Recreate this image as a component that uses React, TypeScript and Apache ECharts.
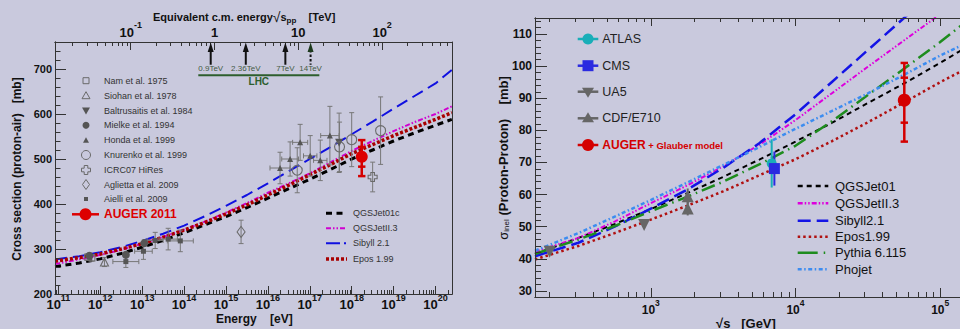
import React, { useEffect, useRef } from 'react';
import * as echarts from 'echarts';

const FONT = '"Liberation Sans", Arial, Helvetica, sans-serif';
const BG = '#c9c9dd';
const AXIS = '#333333';
const TXT = '#111111';
const LOG_2MP = Math.log10(2 * 0.938e9);
const sqrtsTeVToLogE = (t: number) => 2 * Math.log10(t * 1e12) - LOG_2MP;

// ---------------- Left panel: p-air cross section ----------------
const energyDecades = [11, 12, 13, 14, 15, 16, 17, 18, 19, 20];
const sqrtsTickTeV = [0.1, 1, 10, 100];
const pAirTicks = [200, 300, 400, 500, 600, 700];

const leftCurveLogE = [10.92, 11, 11.5, 12, 12.5, 13, 13.5, 14, 14.5, 15, 15.5, 16, 16.5, 17, 17.5, 18, 18.5, 19, 19.5, 20, 20.39];
const qgsjet01cPAir = [261, 262, 269, 278, 290, 304, 319, 336, 354, 372, 392, 413, 434, 455, 477, 500, 520, 540, 558, 575, 588];
const qgsjetII3PAir = [267, 268, 277, 287, 298, 312, 327, 343, 361, 381, 402, 425, 446, 468, 493, 518, 540, 562, 582, 600, 617];
const sibyll21PAir = [277, 278, 284, 293, 304, 318, 334, 352, 373, 396, 420, 446, 473, 500, 527, 555, 583, 612, 640, 668, 698];
const epos199PAir = [273, 274, 281, 289, 300, 312, 326, 342, 359, 378, 398, 420, 442, 465, 488, 512, 532, 552, 570, 588, 603];

// [log10(E/eV), sigma mb, err sigma, err log10E]
const nam1975 = [[11.70, 282, 7, 0], [11.80, 280, 7, 0]];
const siohan1978 = [[12.10, 271, 10, 0]];
const baltrusaitis1984 = [[17.70, 536, 66, 0]];
const mielke1994 = [[11.74, 285, 5, 0], [12.61, 287, 6, 0], [13.05, 313, 7, 0]];
const honda1999 = [[16.29, 480, 35, 0.24], [16.53, 500, 38, 0.2], [16.77, 537, 40, 0.18], [17.01, 507, 45, 0.16], [17.25, 497, 45, 0.16], [17.48, 552, 65, 0.22]];
const knurenko1999 = [[16.70, 475, 50, 0], [17.71, 527, 55, 0], [18.00, 543, 60, 0], [18.69, 563, 75, 0]];
const hires2007 = [[18.50, 460, 33, 0]];
const aglietta2009 = [[15.36, 338, 26, 0]];
const aielli2009 = [[12.61, 272, 13, 0.31], [13.03, 295, 18, 0.21], [13.31, 319, 18, 0.19], [13.62, 322, 24, 0.22], [13.91, 318, 24, 0.31]];
// [log10E, sigma, stat, sys up, sys down]
const auger2011 = [[18.24, 505, 22, 37, 43]];

const lhcArrowTeV = [0.9, 2.36, 7, 14];
const lhcArrowLabels = ['0.9TeV', '2.36TeV', '7TeV', '14TeV'];
const lhcBandTeV = [0.64, 17.8];

const leftDataLegend = [
  'Nam et al. 1975', 'Siohan et al. 1978', 'Baltrusaitis et al. 1984', 'Mielke et al. 1994',
  'Honda et al. 1999', 'Knurenko et al. 1999', 'ICRC07 HiRes', 'Aglietta et al. 2009', 'Aielli et al. 2009',
];
const leftModelLegend = ['QGSJet01c', 'QGSJetII.3', 'Sibyll 2.1', 'Epos 1.99'];

// ---------------- Right panel: p-p cross section ----------------
const sqrtsDecadesGeV = [3, 4, 5];
const ppTicks = [30, 40, 50, 60, 70, 80, 90, 100, 110];

const ppCurveLogSqrtS = [2.2, 2.5, 2.75, 3.0, 3.25, 3.5, 3.75, 4.0, 4.25, 4.5, 4.75, 5.0, 5.14];
const qgsjet01PP = [41.5, 46.5, 50.8, 55.5, 60.4, 65.5, 70.9, 76.5, 82.3, 88.5, 94.6, 101, 104.8];
const qgsjetII3PP = [42.2, 46.5, 51.6, 57.3, 62.8, 68.8, 75.5, 83.2, 91.5, 99.8, 108, 116.2, 120.7];
const sibyll21PP = [40.8, 45, 50, 55.6, 61.5, 68.3, 76, 85, 95, 105, 115, 125, 130.6];
const epos199PP = [39.8, 44, 48, 52.2, 56.5, 61, 66, 71, 76.6, 82.5, 88.7, 95, 98.3];
const pythia6115PP = [41.5, 46, 50.2, 54.8, 59.3, 64, 69.4, 75.2, 82.8, 91, 99.2, 107.5, 112.5];
const phojetPP = [42.5, 48, 53.1, 58.3, 63.7, 69.2, 74.8, 80.5, 86, 91.5, 97.3, 103.3, 106.3];

// [sqrt(s) GeV, sigma mb, err]
const atlas = [[6850, 69.7, 7.5]];
const cms = [[7150, 68.1, 5.3]];
const ua5 = [[200, 42.2, 0.9], [900, 50.5, 1.0]];
const cdfE710 = [[1800, 59.5, 2.4], [1800, 55.7, 2.2]];
// [sqrt(s) GeV, sigma, stat, up, down]
const augerPP = [[56500, 89.4, 7, 11.6, 12.9]];

const rightDataLegend = ['ATLAS', 'CMS', 'UA5', 'CDF/E710'];
const rightModelLegend = ['QGSJet01', 'QGSJetII.3', 'Sibyll2.1', 'Epos1.99', 'Pythia 6.115', 'Phojet'];

// ---------------- geometry ----------------
const L_XMIN = 10.919, L_XMAX = 20.394, L_YMIN = 200, L_YMAX = 760;
const R_XMIN = 2.2, R_XMAX = 5.137, R_YMIN = 28.1, R_YMAX = 115;

function logMinor(lo: number, hi: number, from: number, to: number, f = (v: number) => v) {
  const out: number[] = [];
  for (let n = from; n <= to; n++) for (let k = 2; k <= 9; k++) {
    const v = f(n + Math.log10(k));
    if (v > lo && v < hi) out.push(v);
  }
  return out;
}
function linTicks(lo: number, hi: number, step: number) {
  const out: number[] = [];
  for (let v = lo; v <= hi + 1e-9; v += step) out.push(v);
  return out;
}

const supRich = (base: number, sup: number, pad: number) => ({
  b: { fontSize: base, fontWeight: 'bold', fontFamily: FONT, color: TXT, padding: [pad, 0, 0, 0], verticalAlign: 'bottom' },
  s: { fontSize: sup, fontWeight: 'bold', fontFamily: FONT, color: TXT, verticalAlign: 'top' },
});

function axis(o: any) {
  return {
    type: 'value', gridIndex: o.grid, position: o.position, min: o.min, max: o.max,
    splitLine: { show: false },
    axisLine: { show: o.line !== false, onZero: false, lineStyle: { color: AXIS, width: 1 } },
    axisTick: o.ticks ? { show: true, inside: true, length: o.tickLen, customValues: o.ticks, lineStyle: { color: AXIS, width: 1 } } : { show: false },
    axisLabel: o.labels ? {
      show: true, customValues: o.labels, formatter: o.formatter, margin: o.margin,
      rich: o.rich, color: TXT, fontFamily: FONT, fontSize: o.fontSize || 12, fontWeight: 'bold',
    } : { show: false },
    z: 5,
  };
}

function errorBars(color: string, lw: number, cap: number, capX: number) {
  return (params: any, api: any) => {
    const x = api.value(0), y = api.value(1), ey = api.value(2) || 0, ex = api.value(3) || 0;
    const c = api.coord([x, y]);
    const st = { stroke: color, lineWidth: lw };
    const ch: any[] = [];
    if (ey > 0) {
      const t = api.coord([x, y + ey])[1], b = api.coord([x, y - ey])[1];
      ch.push({ type: 'line', shape: { x1: c[0], y1: t, x2: c[0], y2: b }, style: st });
      if (cap > 0) {
        ch.push({ type: 'line', shape: { x1: c[0] - cap, y1: t, x2: c[0] + cap, y2: t }, style: st });
        ch.push({ type: 'line', shape: { x1: c[0] - cap, y1: b, x2: c[0] + cap, y2: b }, style: st });
      }
    }
    if (ex > 0) {
      const l = api.coord([x - ex, y])[0], r = api.coord([x + ex, y])[0];
      ch.push({ type: 'line', shape: { x1: l, y1: c[1], x2: r, y2: c[1] }, style: st });
      if (capX > 0) {
        ch.push({ type: 'line', shape: { x1: l, y1: c[1] - capX, x2: l, y2: c[1] + capX }, style: st });
        ch.push({ type: 'line', shape: { x1: r, y1: c[1] - capX, x2: r, y2: c[1] + capX }, style: st });
      }
    }
    return { type: 'group', children: ch };
  };
}

function augerBars(color: string, lw: number, cap: number) {
  return (params: any, api: any) => {
    const x = api.value(0), y = api.value(1), st = api.value(2), up = api.value(3), dn = api.value(4);
    const c = api.coord([x, y]);
    const yy = (v: number) => api.coord([x, v])[1];
    const s = { stroke: color, lineWidth: lw };
    const ch: any[] = [{ type: 'line', shape: { x1: c[0], y1: yy(y + up), x2: c[0], y2: yy(y - dn) }, style: s }];
    [y + up, y + st, y - st, y - dn].forEach((v) => {
      const p = yy(v);
      ch.push({ type: 'line', shape: { x1: c[0] - cap, y1: p, x2: c[0] + cap, y2: p }, style: s });
    });
    return { type: 'group', children: ch };
  };
}

const CROSS_PATH = 'path://M3,0H7V3H10V7H7V10H3V7H0V3H3Z';

function buildOption() {
  const series: any[] = [];
  const L = { xAxisIndex: 0, yAxisIndex: 0 };
  const R = { xAxisIndex: 4, yAxisIndex: 3 };

  const line = (ax: any, xs: number[], ys: number[], color: string, width: number, dash: number[], cap = 'butt') => ({
    type: 'line', ...ax, data: xs.map((x, i) => [x, ys[i]]), showSymbol: false, symbol: 'none',
    smooth: false, clip: true, z: 2, silent: true,
    lineStyle: { color, width, type: dash, cap },
  });
  series.push(line(L, leftCurveLogE, qgsjet01cPAir, '#000000', 3, [6, 4.5]));
  series.push(line(L, leftCurveLogE, qgsjetII3PAir, '#d000d0', 2, [5, 2, 1.5, 2, 1.5, 2]));
  series.push(line(L, leftCurveLogE, sibyll21PAir, '#1010e0', 2, [12, 6]));
  series.push(line(L, leftCurveLogE, epos199PAir, '#a80000', 3.5, [3, 2]));

  const gray = '#6a6a6a';
  const pts = (ax: any, d: number[][], symbol: string, size: any, fill: string, stroke: string, rotate = 0) => ({
    type: 'scatter', ...ax, data: d.map((p) => [p[0], p[1]]), symbol, symbolSize: size, symbolRotate: rotate, z: 4, silent: true,
    itemStyle: { color: fill, borderColor: stroke, borderWidth: stroke === 'none' ? 0 : 1.1, opacity: 1 },
  });
  const bars = (ax: any, d: number[][], color: string, lw: number, cap: number, capX: number) => ({
    type: 'custom', ...ax, data: d.map((p) => [p[0], p[1], p[2] || 0, p[3] || 0]), encode: { x: 0, y: 1 },
    renderItem: errorBars(color, lw, cap, capX), z: 3, silent: true,
  });
  const none = 'rgba(0,0,0,0)';
  const leftSets: any[] = [
    [nam1975, 'rect', 6, none, gray, 0],
    [siohan1978, 'triangle', 8, none, gray, 0],
    [baltrusaitis1984, 'triangle', 8, '#555', 'none', 180],
    [mielke1994, 'circle', 8, '#555', 'none', 0],
    [honda1999, 'triangle', 6, '#555', 'none', 0],
    [knurenko1999, 'circle', 10, none, gray, 0],
    [hires2007, CROSS_PATH, 9, none, gray, 0],
    [aglietta2009, 'diamond', [8, 11], none, gray, 0],
    [aielli2009, 'rect', 5, '#555', 'none', 0],
  ];
  leftSets.forEach(([d, sym, size, fill, stroke, rot]) => {
    series.push(bars(L, d, '#777777', 1, 2.5, 2.5));
    series.push(pts(L, d, sym, size, fill, stroke, rot));
  });
  series.push({ type: 'custom', ...L, data: auger2011, encode: { x: 0, y: 1 }, renderItem: augerBars('#d40000', 2.5, 3.7), z: 3, silent: true });
  series.push(pts(L, auger2011, 'circle', 12, '#dd0000', 'none'));

  // LHC arrows
  series.push({
    type: 'custom', ...L, data: lhcArrowTeV.map((t) => [sqrtsTeVToLogE(t), 0]), encode: { x: 0 }, silent: true, z: 6,
    renderItem: (params: any, api: any) => {
      const x = api.value(0);
      const top = api.coord([x, 760]);
      const yb = api.coord([x, 709.5])[1];
      const yl = api.coord([x, 700.5])[1];
      const dashed = params.dataIndex === lhcArrowTeV.length - 1;
      return {
        type: 'group', children: [
          { type: 'line', shape: { x1: top[0], y1: top[1] + 8, x2: top[0], y2: yb }, style: { stroke: '#111', lineWidth: 2, lineDash: dashed ? [2.5, 2] : null } },
          { type: 'polygon', shape: { points: [[top[0], top[1] + 0.5], [top[0] - 3, top[1] + 10], [top[0] + 3, top[1] + 10]] }, style: { fill: dashed ? '#1d3a1d' : '#111' } },
          { type: 'text', x: top[0], y: yl, style: { text: lhcArrowLabels[params.dataIndex], fontSize: 8, fontFamily: FONT, fill: '#445a44', align: 'center', verticalAlign: 'middle' } },
        ],
      };
    },
  });
  series.push({
    type: 'custom', ...L, data: [[sqrtsTeVToLogE(lhcBandTeV[0]), sqrtsTeVToLogE(lhcBandTeV[1])]], encode: { x: [0, 1] }, silent: true, z: 6,
    renderItem: (params: any, api: any) => {
      const a = api.coord([api.value(0), 686]);
      const b = api.coord([api.value(1), 686]);
      const t = api.coord([(api.value(0) + api.value(1)) / 2, 672]);
      return {
        type: 'group', children: [
          { type: 'line', shape: { x1: a[0], y1: a[1], x2: b[0], y2: b[1] }, style: { stroke: '#2d5e2d', lineWidth: 2 } },
          { type: 'text', x: t[0], y: t[1], style: { text: 'LHC', fontSize: 10, fontWeight: 'bold', fontFamily: FONT, fill: '#2d5e2d', align: 'center', verticalAlign: 'middle' } },
        ],
      };
    },
  });

  // right panel curves
  series.push(line(R, ppCurveLogSqrtS, qgsjet01PP, '#000000', 2, [5, 4]));
  series.push(line(R, ppCurveLogSqrtS, qgsjetII3PP, '#dd00dd', 2, [5, 2, 1.5, 2, 1.5, 2]));
  series.push(line(R, ppCurveLogSqrtS, sibyll21PP, '#1414e6', 2.5, [13, 6]));
  series.push(line(R, ppCurveLogSqrtS, epos199PP, '#b01010', 2.5, [2.5, 3]));
  series.push(line(R, ppCurveLogSqrtS, pythia6115PP, '#1e8c1e', 2.5, [14, 5, 1.5, 5]));
  series.push(line(R, ppCurveLogSqrtS, phojetPP, '#3c8cf0', 2.5, [4, 2.5, 1.5, 2.5]));

  const toLog = (d: number[][]) => d.map((p) => [Math.log10(p[0]), ...p.slice(1)]);
  series.push(bars(R, toLog(ua5), '#666', 2, 0, 0));
  series.push(pts(R, toLog(ua5), 'triangle', 12, '#666', 'none', 180));
  series.push(bars(R, toLog(cdfE710), '#666', 2, 0, 0));
  series.push(pts(R, toLog(cdfE710), 'triangle', 12, '#666', 'none'));
  series.push(bars(R, toLog(atlas), '#19aeb8', 2, 0, 0));
  series.push(pts(R, toLog(atlas), 'circle', 10, '#19aeb8', 'none'));
  series.push(bars(R, toLog(cms), '#2a2ae0', 2, 0, 0));
  series.push(pts(R, toLog(cms), 'rect', 11, '#2a2ae0', 'none'));
  series.push({ type: 'custom', ...R, data: toLog(augerPP), encode: { x: 0, y: 1 }, renderItem: augerBars('#d40000', 2.5, 3.7), z: 3, silent: true });
  series.push(pts(R, toLog(augerPP), 'circle', 13, '#d40000', 'none'));

  // axes
  const xAxis = [
    axis({ grid: 0, position: 'bottom', min: L_XMIN, max: L_XMAX, ticks: energyDecades, tickLen: 8, labels: energyDecades, margin: -1,
      formatter: (v: number) => `{b|10}{s|${Math.round(v)}}`, rich: supRich(13, 9, 5) }),
    axis({ grid: 0, position: 'bottom', min: L_XMIN, max: L_XMAX, ticks: logMinor(L_XMIN, L_XMAX, 10, 20), tickLen: 4 }),
    axis({ grid: 0, position: 'top', min: L_XMIN, max: L_XMAX, ticks: sqrtsTickTeV.map(sqrtsTeVToLogE), tickLen: 8,
      labels: sqrtsTickTeV.map(sqrtsTeVToLogE), margin: 3, rich: supRich(13, 9, 6),
      formatter: (v: number) => {
        const e = Math.round((v + LOG_2MP) / 2 - 12);
        if (e === 0) return '{b|1}';
        if (e === 1) return '{b|10}';
        return `{b|10}{s|${e}}`;
      } }),
    axis({ grid: 0, position: 'top', min: L_XMIN, max: L_XMAX, ticks: logMinor(L_XMIN, L_XMAX, -2, 2, (l) => 2 * (l + 12) - LOG_2MP), tickLen: 4 }),
    axis({ grid: 1, position: 'bottom', min: R_XMIN, max: R_XMAX, ticks: sqrtsDecadesGeV, tickLen: 9, labels: sqrtsDecadesGeV, margin: 1,
      formatter: (v: number) => `{b|10}{s|${Math.round(v)}}`, rich: supRich(12, 8.5, 6) }),
    axis({ grid: 1, position: 'bottom', min: R_XMIN, max: R_XMAX, ticks: logMinor(R_XMIN, R_XMAX, 2, 5), tickLen: 5 }),
    axis({ grid: 1, position: 'top', min: R_XMIN, max: R_XMAX, ticks: sqrtsDecadesGeV, tickLen: 8 }),
    axis({ grid: 1, position: 'top', min: R_XMIN, max: R_XMAX, ticks: logMinor(R_XMIN, R_XMAX, 2, 5), tickLen: 4 }),
  ];
  const yAxis = [
    axis({ grid: 0, position: 'left', min: L_YMIN, max: L_YMAX, ticks: pAirTicks, tickLen: 11, labels: pAirTicks, margin: 3, fontSize: 11,
      formatter: (v: number) => String(Math.round(v)) }),
    axis({ grid: 0, position: 'left', min: L_YMIN, max: L_YMAX, ticks: linTicks(220, 740, 20), tickLen: 5.5 }),
    axis({ grid: 0, position: 'right', min: L_YMIN, max: L_YMAX }),
    axis({ grid: 1, position: 'left', min: R_YMIN, max: R_YMAX, ticks: ppTicks, tickLen: 12, labels: ppTicks, margin: 3, fontSize: 12,
      formatter: (v: number) => String(Math.round(v)) }),
    axis({ grid: 1, position: 'left', min: R_YMIN, max: R_YMAX, ticks: linTicks(30, 114, 2), tickLen: 6 }),
  ];

  // graphic: titles and legends
  const g: any[] = [];
  const text = (x: number, y: number, t: string, size: number, opts: any = {}) => ({
    type: 'text', x, y, rotation: opts.rotation || 0, z: 10, silent: true,
    style: { text: t, fontSize: size, fontFamily: FONT, fontWeight: opts.bold ? 'bold' : 'normal', fill: opts.color || TXT,
      align: opts.align || 'left', verticalAlign: 'middle', rich: opts.rich },
  });
  g.push(text(17, 169, 'Cross section (proton-air)   [mb]', 12, { bold: true, rotation: Math.PI / 2, align: 'center' }));
  g.push(text(216, 319, 'Energy    [eV]', 12, { bold: true }));
  g.push(text(153, 17, '{t|Equivalent c.m. energy}{r|√}{t|s}{sub|pp}{t|    [TeV]}', 11, {
    bold: true, rich: {
      t: { fontSize: 11, fontWeight: 'bold', fontFamily: FONT, fill: TXT },
      r: { fontSize: 14, fontWeight: 'normal', fontFamily: FONT, fill: TXT },
      sub: { fontSize: 8, fontWeight: 'bold', fontFamily: FONT, fill: TXT, padding: [7, 0, 0, 0] },
    } }));
  g.push(text(503, 158, '{s|σ}{sub|inel}{t| (Proton-Proton)    [mb]}', 13, {
    rotation: Math.PI / 2, align: 'center', rich: {
      s: { fontSize: 13, fontFamily: FONT, fill: TXT },
      sub: { fontSize: 8, fontFamily: FONT, fill: TXT, padding: [7, 0, 0, 0] },
      t: { fontSize: 13, fontWeight: 'bold', fontFamily: FONT, fill: TXT },
    } }));
  g.push(text(716, 323, '√s   [GeV]', 13, { bold: true }));

  // left data legend
  const lg = '#6a6a6a', lf = '#555';
  const lMark = (i: number, cx: number, cy: number): any => {
    const so = { fill: 'none', stroke: lg, lineWidth: 1 };
    const sf = { fill: lf };
    switch (i) {
      case 0: return { type: 'rect', shape: { x: cx - 3, y: cy - 3, width: 6, height: 6 }, style: so };
      case 1: return { type: 'polygon', shape: { points: [[cx, cy - 4], [cx - 4, cy + 3], [cx + 4, cy + 3]] }, style: so };
      case 2: return { type: 'polygon', shape: { points: [[cx - 4, cy - 3], [cx + 4, cy - 3], [cx, cy + 4]] }, style: sf };
      case 3: return { type: 'circle', shape: { cx, cy, r: 3.5 }, style: sf };
      case 4: return { type: 'polygon', shape: { points: [[cx, cy - 3], [cx - 3, cy + 2.5], [cx + 3, cy + 2.5]] }, style: sf };
      case 5: return { type: 'circle', shape: { cx, cy, r: 4.5 }, style: so };
      case 6: return { type: 'polygon', shape: { points: [[cx - 1.8, cy - 4.5], [cx + 1.8, cy - 4.5], [cx + 1.8, cy - 1.8], [cx + 4.5, cy - 1.8], [cx + 4.5, cy + 1.8], [cx + 1.8, cy + 1.8], [cx + 1.8, cy + 4.5], [cx - 1.8, cy + 4.5], [cx - 1.8, cy + 1.8], [cx - 4.5, cy + 1.8], [cx - 4.5, cy - 1.8], [cx - 1.8, cy - 1.8]] }, style: so };
      case 7: return { type: 'polygon', shape: { points: [[cx, cy - 5], [cx + 3.5, cy], [cx, cy + 5], [cx - 3.5, cy]] }, style: so };
      default: return { type: 'rect', shape: { x: cx - 2, y: cy - 2, width: 4, height: 4 }, style: sf };
    }
  };
  const lRows = [80.7, 95.7, 110.5, 125.3, 140.3, 155, 170, 184.5, 199];
  leftDataLegend.forEach((t, i) => {
    g.push({ ...lMark(i, 86, lRows[i]), z: 10, silent: true });
    g.push(text(104, lRows[i], t, 9, { color: '#333' }));
  });
  g.push({ type: 'line', shape: { x1: 72, y1: 214.3, x2: 99, y2: 214.3 }, style: { stroke: '#dd0000', lineWidth: 2.5 }, z: 10, silent: true });
  g.push({ type: 'circle', shape: { cx: 85.5, cy: 214.3, r: 6 }, style: { fill: '#dd0000' }, z: 10, silent: true });
  g.push(text(104, 214.3, 'AUGER 2011', 12, { bold: true, color: '#dd0000' }));

  // left model legend
  const lModelStyles = [
    { stroke: '#000', lineWidth: 3, lineDash: [6, 4.5] },
    { stroke: '#d000d0', lineWidth: 2, lineDash: [5, 2, 1.5, 2, 1.5, 2] },
    { stroke: '#1010e0', lineWidth: 2, lineDash: [14, 4, 2, 4] },
    { stroke: '#a80000', lineWidth: 3.5, lineDash: [3, 2] },
  ];
  const lmRows = [213.3, 228.3, 243.3, 259];
  leftModelLegend.forEach((t, i) => {
    g.push({ type: 'line', shape: { x1: 326, y1: lmRows[i], x2: 347, y2: lmRows[i] }, style: lModelStyles[i], z: 10, silent: true });
    g.push(text(353, lmRows[i], t, 9, { color: '#333' }));
  });

  // right data legend
  const rRows = [39, 65.7, 91.7, 118.3, 145];
  const rColors = ['#19aeb8', '#2a2ae0', '#666', '#666', '#d40000'];
  rRows.forEach((y, i) => {
    g.push({ type: 'line', shape: { x1: 577.7, y1: y, x2: 598.3, y2: y }, style: { stroke: rColors[i], lineWidth: 2.5 }, z: 10, silent: true });
    let m: any;
    if (i === 0) m = { type: 'circle', shape: { cx: 588, cy: y, r: 5.5 }, style: { fill: rColors[i] } };
    else if (i === 1) m = { type: 'rect', shape: { x: 582.5, y: y - 5.5, width: 11, height: 11 }, style: { fill: rColors[i] } };
    else if (i === 2) m = { type: 'polygon', shape: { points: [[582, y - 4], [594, y - 4], [588, y + 6]] }, style: { fill: rColors[i] } };
    else if (i === 3) m = { type: 'polygon', shape: { points: [[588, y - 6], [582, y + 4], [594, y + 4]] }, style: { fill: rColors[i] } };
    else m = { type: 'circle', shape: { cx: 588, cy: y, r: 6 }, style: { fill: rColors[i] } };
    g.push({ ...m, z: 10, silent: true });
    if (i < 4) g.push(text(602.3, y, rightDataLegend[i], 12.5, { color: '#222' }));
  });
  g.push(text(602.3, 145, '{a|AUGER}{b| + Glauber model}', 12, {
    rich: {
      a: { fontSize: 12, fontWeight: 'bold', fontFamily: FONT, fill: '#d40000' },
      b: { fontSize: 9.5, fontWeight: 'bold', fontFamily: FONT, fill: '#d40000' },
    } }));

  // right model legend
  const rModelStyles = [
    { stroke: '#000', lineWidth: 2.5, lineDash: [5, 4] },
    { stroke: '#dd00dd', lineWidth: 2.5, lineDash: [5, 2, 1.5, 2, 1.5, 2] },
    { stroke: '#1414e6', lineWidth: 2.5, lineDash: [13, 6] },
    { stroke: '#b01010', lineWidth: 2.5, lineDash: [2.5, 3] },
    { stroke: '#1e8c1e', lineWidth: 2.5, lineDash: [20, 6, 1.5, 6] },
    { stroke: '#3c8cf0', lineWidth: 2.5, lineDash: [4, 2.5, 1.5, 2.5] },
  ];
  const rmRows = [186, 203.3, 220.7, 236.7, 252.7, 269.3];
  rightModelLegend.forEach((t, i) => {
    g.push({ type: 'line', shape: { x1: 797.7, y1: rmRows[i], x2: 828.3, y2: rmRows[i] }, style: rModelStyles[i], z: 10, silent: true });
    g.push(text(835, rmRows[i], t, 13, { color: '#111' }));
  });

  return {
    animation: false,
    backgroundColor: BG,
    textStyle: { fontFamily: FONT },
    grid: [
      { left: 55, top: 42, width: 397, height: 252, containLabel: false, show: false },
      { left: 535, top: 18, width: 427, height: 279, containLabel: false, show: false },
    ],
    xAxis, yAxis, series, graphic: g,
  };
}

export default function App() {
  const ref = useRef<HTMLDivElement>(null);
  useEffect(() => {
    const chart = echarts.init(ref.current!, null, { renderer: 'svg' });
    chart.setOption(buildOption() as any);
    return () => chart.dispose();
  }, []);
  return <div ref={ref} style={{ position: 'fixed', left: 0, top: 0, width: 960, height: 329, background: BG }} />;
}
